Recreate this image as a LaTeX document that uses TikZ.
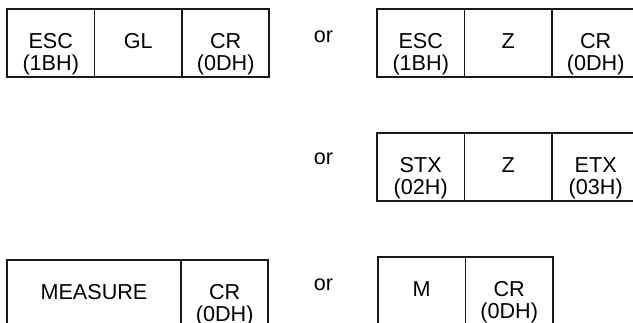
\documentclass[tikz,border=0pt]{standalone}
\usepackage{fontspec}
\setmainfont{Liberation Sans}
\usetikzlibrary{positioning}

\newcommand\twoline[2]{\begin{tabular}[t]{@{}c@{}}#1\\#2\end{tabular}}

\begin{document}
\begin{tikzpicture}[
  x=0.02cm, y=-0.02cm,
  cell/.style={draw=black!90, line width=1.1pt, outer sep=0pt, inner sep=0pt,
    minimum width=1.75cm, minimum height=1.36cm,
    text height=0.6cm, text depth=0.36cm, font=\fontsize{12.3}{10.2}\selectfont},
  wide/.style={cell, minimum width=3.48cm},
  ortext/.style={anchor=base, font=\fontsize{12.3}{14}\selectfont},
]
\clip (0,0) rectangle (633,323);
% first row
\node[cell, anchor=north west] (esc1) at (7,9) {\twoline{ESC}{(1BH)}};
\node[cell, right=0pt of esc1] (gl) {GL};
\node[cell, right=0pt of gl] (cr1) {\twoline{CR}{(0DH)}};
\node[ortext] (or1) at (323.5,43) {or};
\node[cell, anchor=north west] (esc2) at (377,9) {\twoline{ESC}{(1BH)}};
\node[cell, right=0pt of esc2] (z1) {Z};
\node[cell, right=0pt of z1] (cr2) {\twoline{CR}{(0DH)}};
% second row
\node[ortext] (or2) at (323.5,165) {or};
\node[cell, anchor=north west] (stx) at (377,133) {\twoline{STX}{(02H)}};
\node[cell, right=0pt of stx] (z2) {Z};
\node[cell, right=0pt of z2] (etx) {\twoline{ETX}{(03H)}};
% third row
\node[wide, anchor=north west] (meas) at (7,260) {MEASURE};
\node[cell, right=0pt of meas] (cr3) {\twoline{CR}{(0DH)}};
\node[ortext] (or3) at (323.5,291) {or};
\node[cell, anchor=north west] (m) at (378,257) {M};
\node[cell, right=0pt of m] (cr4) {\twoline{CR}{(0DH)}};
\end{tikzpicture}
\end{document}
